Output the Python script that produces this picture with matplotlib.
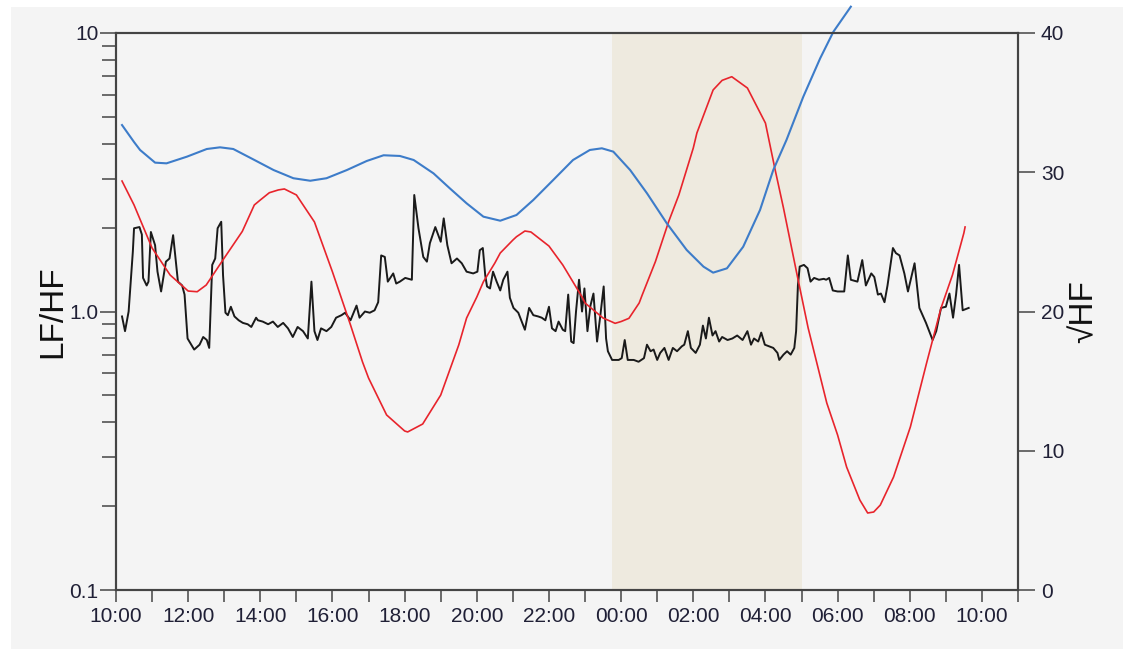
import matplotlib
matplotlib.use("Agg")
import matplotlib.pyplot as plt
from matplotlib.patches import Rectangle
from matplotlib.ticker import FixedLocator, NullFormatter

plt.rcParams['font.family'] = ['Liberation Sans', 'DejaVu Sans']

# ---- data (times in minutes after 10:00) ----
black_t = [10, 15, 21, 28, 30, 39, 43, 45, 51, 54, 58, 65, 69, 75, 83, 89, 95, 103, 110, 114,
           119, 130, 139, 145, 151, 155, 160, 165, 169, 175, 178, 182, 186, 191, 197, 204, 211, 219, 225, 233,
           236, 244, 253, 261, 269, 278, 286, 294, 302, 311, 319, 325, 330, 335, 341, 350, 358, 366, 375, 381,
           390, 400, 405, 414, 422, 430, 436, 441, 447, 452, 461, 466,
           472, 481, 492, 496, 503, 511, 517, 522, 531, 536, 540, 545, 551, 558, 567, 575, 583, 594, 601, 605,
           610, 614, 617, 622, 627, 633, 639, 644, 651, 655, 661, 669, 680, 687, 694, 702,
           708, 714, 720, 725, 731, 736, 743, 747, 752, 757, 761, 765, 770, 775, 779, 784, 789, 794, 800, 805,
           811, 815, 818, 825, 836, 841, 846, 851, 861, 869, 878, 883, 889, 894, 900, 905, 912, 919, 926, 933, 941,
           945, 951, 956, 964, 971, 976, 981, 986, 992, 997, 1003, 1008, 1017, 1025, 1033, 1042, 1050, 1056, 1061, 1068,
           1073, 1079, 1086, 1093, 1100, 1103, 1110, 1116, 1122, 1128, 1131, 1134, 1137, 1144, 1150, 1155, 1161, 1169, 1177,
           1181, 1186, 1192, 1200, 1211, 1217, 1222, 1233, 1241, 1247, 1256, 1261, 1267, 1272, 1278, 1283, 1292, 1297, 1303, 1311,
           1317, 1328, 1336, 1347, 1358, 1364, 1372, 1380, 1386, 1392, 1397, 1402, 1408, 1418]
black_v = [0.96, 0.85, 1.00, 1.64, 1.99, 2.01, 1.89, 1.32, 1.24, 1.28, 1.93, 1.73, 1.39, 1.18, 1.51, 1.55, 1.88, 1.28, 1.24, 1.15,
           0.80, 0.73, 0.76, 0.81, 0.79, 0.74, 1.47, 1.55, 1.99, 2.10, 1.35, 0.99, 0.97, 1.04, 0.96, 0.93, 0.91, 0.90, 0.88, 0.95,
           0.93, 0.92, 0.90, 0.92, 0.88, 0.91, 0.87, 0.81, 0.88, 0.85, 0.80, 1.28, 0.85, 0.79, 0.87, 0.85, 0.88, 0.95, 0.97, 0.99,
           0.93, 1.05, 0.95, 1.00, 0.99, 1.01, 1.08, 1.59, 1.57, 1.28, 1.37, 1.26,
           1.28, 1.32, 1.30, 2.62, 1.99, 1.57, 1.51, 1.76, 2.01, 1.88, 1.78, 2.16, 1.73, 1.49, 1.55, 1.49, 1.39, 1.37, 1.39, 1.66,
           1.69, 1.35, 1.23, 1.21, 1.39, 1.28, 1.19, 1.30, 1.39, 1.12, 1.03, 0.99, 0.86, 1.03, 0.97, 0.96,
           0.95, 0.93, 1.04, 0.87, 0.85, 0.92, 0.86, 0.85, 1.15, 0.78, 0.77, 1.00, 1.30, 1.00, 1.21, 0.85, 1.05, 1.16, 0.78, 0.95,
           1.23, 0.80, 0.72, 0.67, 0.67, 0.68, 0.79, 0.67, 0.67, 0.66, 0.68, 0.76, 0.72, 0.73, 0.67, 0.71, 0.74, 0.67, 0.74, 0.72, 0.75,
           0.76, 0.85, 0.74, 0.71, 0.76, 0.89, 0.80, 0.95, 0.82, 0.85, 0.78, 0.81, 0.79, 0.80, 0.82, 0.79, 0.85, 0.76, 0.80, 0.78,
           0.84, 0.76, 0.75, 0.74, 0.71, 0.67, 0.70, 0.72, 0.70, 0.74, 0.85, 1.24, 1.45, 1.47, 1.43, 1.28, 1.32, 1.30, 1.31,
           1.30, 1.32, 1.19, 1.18, 1.18, 1.59, 1.30, 1.28, 1.53, 1.24, 1.37, 1.33, 1.15, 1.16, 1.08, 1.24, 1.69, 1.62, 1.59, 1.37,
           1.18, 1.49, 1.03, 0.91, 0.79, 0.85, 1.03, 1.04, 1.16, 0.95, 1.15, 1.47, 1.01, 1.03]

red_t = [10, 30, 60, 90, 120, 135, 150, 180, 210, 230, 240, 255, 270, 280, 300, 330, 360, 390, 410, 420, 450,
         480, 485, 510, 540, 555, 570, 583, 600, 611, 630, 639, 660, 666, 680, 690, 720, 743, 750, 776, 780,
         810, 825, 830, 840, 853, 870, 875, 897, 919, 936, 960, 966, 993, 1008, 1024, 1050, 1080, 1096, 1110,
         1132, 1151, 1182, 1200, 1215, 1237, 1250, 1260, 1271, 1293, 1321, 1348, 1372, 1391, 1410, 1412]
red_v = [29.37, 27.65, 24.56, 22.62, 21.47, 21.42, 21.90, 23.84, 25.75, 27.65, 28.01, 28.53, 28.73, 28.80, 28.37, 26.43, 22.84, 19.03, 16.37, 15.22, 12.57,
         11.42, 11.35, 11.92, 14.00, 15.80, 17.60, 19.53, 21.04, 22.14, 23.48, 24.20, 25.13, 25.37, 25.78, 25.71, 24.70, 23.34, 22.84, 20.97, 20.61,
         19.53, 19.25, 19.15, 19.28, 19.51, 20.61, 21.18, 23.58, 26.45, 28.37, 31.74, 32.82, 35.91, 36.60, 36.86, 36.05, 33.53, 30.20, 27.43,
         22.76, 18.82, 13.43, 11.13, 8.83, 6.46, 5.53, 5.60, 6.10, 8.11, 11.71, 16.30, 20.25, 22.62, 25.64, 26.07]

blue_t = [10, 30, 40, 65, 84, 118, 151, 173, 195, 228, 262, 295, 323, 350, 384, 417, 445, 472, 495, 528,
          555, 583, 611, 639, 666, 694, 727, 760, 788, 808, 827, 855, 883, 916, 949, 977, 993, 1016, 1043, 1071,
          1093, 1115, 1143, 1171, 1193, 1222]
blue_v = [33.39, 32.17, 31.60, 30.69, 30.64, 31.12, 31.67, 31.79, 31.67, 30.93, 30.16, 29.57, 29.39, 29.57, 30.16, 30.81, 31.22, 31.17, 30.88, 29.92,
          28.85, 27.77, 26.81, 26.52, 26.93, 28.01, 29.44, 30.88, 31.60, 31.72, 31.48, 30.16, 28.49, 26.33, 24.42, 23.22, 22.79, 23.10, 24.65, 27.29,
          30.16, 32.32, 35.43, 38.18, 40.09, 41.89]

x_labels = ["10:00", "12:00", "14:00", "16:00", "18:00", "20:00", "22:00", "00:00",
            "02:00", "04:00", "06:00", "08:00", "10:00"]
sleep_start, sleep_end = 13.75, 19.0   # hours after 10:00 (23:45 - 05:00)

# ---- figure ----
fig = plt.figure(figsize=(11.26, 6.49), dpi=100, facecolor='white')
fig.patches.append(Rectangle((11 / 1126, 0), 1112 / 1126, 642 / 649, transform=fig.transFigure,
                             facecolor='#F4F4F4', edgecolor='none', zorder=-10))
ax = fig.add_axes([116 / 1126, 59 / 649, 902 / 1126, 557 / 649])
ax.set_facecolor('#F4F4F4')

ax.set_yscale('log')
ax.set_ylim(0.1, 10)
ax.set_xlim(0, 25)
ax.axvspan(sleep_start, sleep_end, color='#EEEADF', lw=0, zorder=0)

ax.plot([t / 60 for t in black_t], black_v, color='#1a1a1a', lw=1.4, zorder=3,
        solid_joinstyle='round')

ax2 = ax.twinx()
ax2.set_ylim(0, 40)
ax2.plot([t / 60 for t in red_t], red_v, color='#E8242C', lw=1.2, zorder=2,
         solid_joinstyle='round')
ax2.plot([t / 60 for t in blue_t], blue_v, color='#3D7CC9', lw=1.5, zorder=2, clip_on=False,
         solid_joinstyle='round')

spc = '#444444'
txt = '#202036'
for a in (ax, ax2):
    for s in a.spines.values():
        s.set_color(spc)
        s.set_linewidth(1.5)

# x ticks
ax.xaxis.set_major_locator(FixedLocator(list(range(0, 25, 2))))
ax.xaxis.set_minor_locator(FixedLocator(list(range(1, 26, 2))))
ax.set_xticklabels(x_labels)
ax.tick_params(axis='x', which='both', direction='out', length=8.4, width=1.1, color=spc,
               pad=4, labelsize=15, labelcolor=txt)

# left y ticks
ax.set_yticks([0.1, 1, 10])
ax.set_yticklabels(['0.1', '1.0', '10'])
ax.yaxis.set_minor_locator(FixedLocator([m * d for d in (0.1, 1) for m in range(2, 10)]))
ax.yaxis.set_minor_formatter(NullFormatter())
ax.tick_params(axis='y', which='major', direction='out', length=11.5, width=1.1, color=spc,
               pad=1, labelsize=15, labelcolor=txt)
ax.tick_params(axis='y', which='minor', direction='out', length=10, width=1.1, color=spc)

# right y ticks
ax2.set_yticks([0, 10, 20, 30, 40])
ax2.tick_params(axis='y', direction='out', length=12.5, width=1.1, color=spc,
                pad=4, labelsize=15, labelcolor=txt)

ax.set_ylabel('LF/HF', fontsize=24, labelpad=1, color='#111111')
ax2.set_ylabel('√HF', fontsize=24, labelpad=3, color='#111111', rotation=90)

fig.savefig('out.png', dpi=100, facecolor=fig.get_facecolor())
